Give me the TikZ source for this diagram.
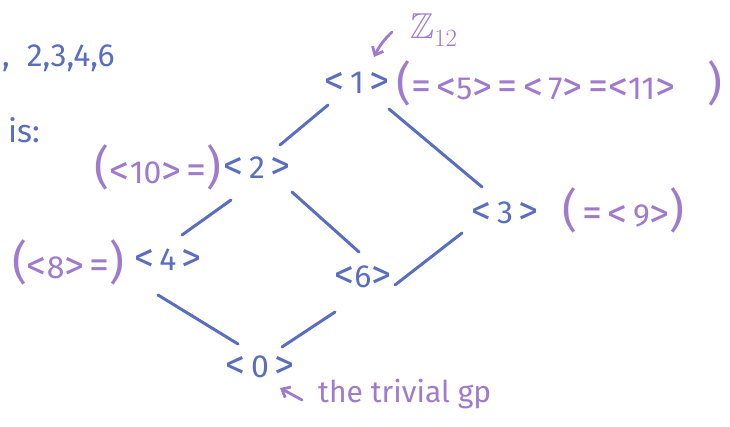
\documentclass[tikz,border=0pt]{standalone}
\usepackage{fontspec}
\setmainfont{Fira Sans}
\usepackage{amssymb}
\usetikzlibrary{arrows.meta}
\definecolor{ink}{HTML}{5A6EC0}
\definecolor{lil}{HTML}{A07ACB}
\newcommand{\bigp}[1]{{\fontsize{46}{46}\selectfont #1}}
\newcommand{\angL}{{\fontsize{40}{40}\selectfont\raisebox{-1pt}{<}}}
\newcommand{\angR}{{\fontsize{40}{40}\selectfont\raisebox{-1pt}{>}}}
\newcommand{\eqs}{{\fontsize{40}{40}\selectfont =}}
\begin{document}
\begin{tikzpicture}[x=1pt,y=-1pt,
  every node/.style={inner sep=0pt, font=\fontsize{32}{36}\selectfont},
  blu/.style={text=ink},
  pur/.style={text=lil},
  edge/.style={draw=ink, line width=3pt, line cap=round},
  parrow/.style={draw=lil, line width=2.8pt, line cap=round, -{Straight Barb[length=7pt,width=12pt]}}]
\useasboundingbox (0,0) rectangle (730,427);
% left margin text
\node[blu, anchor=west] (t1) at (2,58) {,\ \ 2,3,4,6};
\node[blu, anchor=west] (t2) at (8,130) {is:};
% lattice nodes
\node[blu] (n1) at (357,83) {\angL\,1\,\angR};
\node[blu] (n2) at (257,168) {\angL\,2\,\angR};
\node[blu] (n3) at (505,213) {\angL\,3\,\angR};
\node[blu] (n4) at (168,260) {\angL\,4\,\angR};
\node[blu] (n6) at (363,277) {\angL6\angR};
\node[blu] (n0) at (260,367) {\angL\,0\,\angR};
% purple annotations
\node[pur, anchor=west] (e1) at (396,83) {\bigp{(}\eqs\,\angL5\angR\,\eqs\,\angL\,7\angR\,\eqs\angL11\angR\quad\bigp{)}};
\node[pur, anchor=east] (e2) at (222,167) {\bigp{(}\angL10\angR\,\eqs\bigp{)}};
\node[pur, anchor=west] (e3) at (562,210) {\bigp{(}\,\eqs\,\angL\,9\angR\bigp{)}};
\node[pur, anchor=east] (e4) at (125,262) {\bigp{(}\angL8\angR\,\eqs\bigp{)}};
\node[pur] (z) at (434,30) {\fontsize{36}{36}\selectfont$\mathbb{Z}_{12}$};
\node[pur, anchor=west] (tg) at (318,394) {\fontsize{30}{34}\selectfont the trivial gp};
% connectors
\draw[edge] ([shift={(-29,22)}]n1.center) -- ([shift={(23,-23)}]n2.center);
\draw[edge] ([shift={(32,26)}]n1.center) -- ([shift={(-23,-26)}]n3.center);
\draw[edge] ([shift={(-26,32)}]n2.center) -- ([shift={(14,-25)}]n4.center);
\draw[edge] ([shift={(35,24)}]n2.center) -- ([shift={(-4,-25)}]n6.center);
\draw[edge] ([shift={(-43,20)}]n3.center) -- ([shift={(32,8)}]n6.center);
\draw[edge] ([shift={(-10,35)}]n4.center) -- ([shift={(-22,-23)}]n0.center);
\draw[edge] ([shift={(-28,35)}]n6.center) -- ([shift={(22,-20)}]n0.center);
% arrows
\draw[parrow] ([shift={(-42,2)}]z.center) to[bend right=10] ([shift={(17,-26)}]n1.center);
\draw[parrow] ([shift={(-16,6)}]tg.west) -- ([shift={(20,21)}]n0.center);
\end{tikzpicture}
\end{document}
